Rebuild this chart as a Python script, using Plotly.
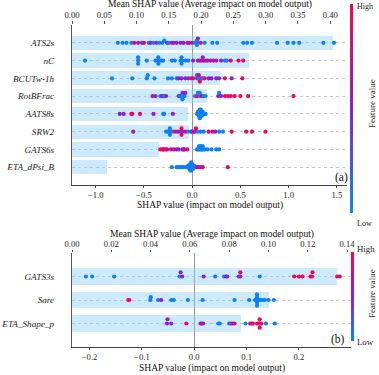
import numpy as np
import plotly.graph_objects as go

# ---------------------------------------------------------------------------
# Data
# ---------------------------------------------------------------------------

features_a = ["ATS2s", "nC", "BCUTw-1h", "RotBFrac", "AATS8s", "SRW2", "GATS6s", "ETA_dPsi_B"]
mean_abs_a = [0.404, 0.274, 0.229, 0.209, 0.180, 0.182, 0.135, 0.054]

features_b = ["GATS3s", "Sare", "ETA_Shape_p"]
mean_abs_b = [0.135, 0.1005, 0.0858]

ats2s_shap = [-0.77, -0.72, -0.68, -0.63, -0.60, -0.56, -0.52, -0.50, -0.45, -0.43,
              -0.40, -0.37, -0.34, -0.31, -0.29, -0.26, -0.24, -0.21, -0.19, -0.16,
              -0.12, -0.09, -0.05, -0.03, 0.00, 0.03, 0.05, 0.05, 0.05, 0.06,
              0.09, 0.13, 0.21, 0.26, 0.53, 0.57, 0.62, 0.88, 0.99, 1.05,
              1.11, 1.36, 1.47]
ats2s_val = [0.05, 0.05, 0.05, 0.05, 0.95, 0.5, 0.5, 0.95, 0.05, 0.5,
             0.05, 0.5, 0.05, 0.05, 0.05, 0.5, 0.05, 0.95, 0.5, 0.5,
             0.5, 0.5, 0.95, 0.5, 0.95, 0.05, 0.05, 0.05, 0.05, 0.5,
             0.95, 0.05, 0.05, 0.05, 0.05, 0.05, 0.05, 0.05, 0.05, 0.05,
             0.05, 0.05, 0.05]

nc_shap = [-1.11, -0.56, -0.56, -0.56, -0.47, -0.38, -0.36, -0.35, -0.35, -0.34,
           -0.32, -0.30, -0.21, -0.18, -0.12, -0.11, -0.11, -0.11, -0.10, -0.07,
           -0.04, 0.01, 0.06, 0.08, 0.10, 0.11, 0.12, 0.14, 0.16, 0.19,
           0.22, 0.25, 0.30, 0.34, 0.36, 0.40, 0.48, 0.53]
nc_val = [0.05, 0.05, 0.05, 0.05, 0.05, 0.05, 0.05, 0.05, 0.05, 0.05,
          0.05, 0.05, 0.05, 0.05, 0.05, 0.05, 0.05, 0.05, 0.05, 0.05,
          0.05, 0.5, 0.5, 0.5, 0.95, 0.5, 0.5, 0.95, 0.5, 0.5,
          0.95, 0.5, 0.5, 0.05, 0.05, 0.95, 0.95, 0.95]

bcutw_shap = [-0.83, -0.62, -0.47, -0.46, -0.39, -0.25, -0.21, -0.16, -0.14, -0.11,
              -0.07, -0.04, -0.01, 0.01, 0.05, 0.05, 0.06, 0.07, 0.07, 0.08,
              0.10, 0.11, 0.13, 0.17, 0.20, 0.25, 0.28, 0.34, 0.41, 0.52]
bcutw_val = [0.05, 0.05, 0.05, 0.05, 0.05, 0.05, 0.05, 0.05, 0.5, 0.5,
             0.5, 0.5, 0.95, 0.95, 0.05, 0.05, 0.5, 0.05, 0.95, 0.95,
             0.5, 0.05, 0.95, 0.5, 0.5, 0.5, 0.5, 0.95, 0.5, 0.95]

rotb_shap = [-0.41, -0.38, -0.33, -0.31, -0.29, -0.27, -0.14, -0.13, -0.12, -0.11,
             -0.10, -0.10, -0.09, -0.08, -0.07, 0.03, 0.05, 0.06, 0.08, 0.08,
             0.10, 0.12, 0.14, 0.27, 0.28, 0.30, 0.34, 0.37, 0.40, 0.44,
             0.50, 0.58, 1.05]
rotb_val = [0.5, 0.5, 0.05, 0.5, 0.05, 0.5, 0.05, 0.5, 0.05, 0.05,
            0.5, 0.05, 0.05, 0.05, 0.5, 0.05, 0.95, 0.05, 0.05, 0.05,
            0.95, 0.05, 0.05, 0.5, 0.05, 0.5, 0.95, 0.95, 0.95, 0.95,
            0.95, 0.95, 0.95]

aats8s_shap = [-0.75, -0.71, -0.63, -0.62, -0.54, -0.40, -0.30, -0.29, -0.20,
               0.05, 0.06, 0.06, 0.07, 0.07, 0.07, 0.08, 0.08, 0.08, 0.08, 0.08,
               0.09, 0.09, 0.09, 0.09, 0.10, 0.10, 0.10, 0.11, 0.11, 0.12,
               0.13, 0.14]
aats8s_val = [0.5, 0.5, 0.95, 0.95, 0.95, 0.5, 0.05, 0.05, 0.5,
              0.05, 0.05, 0.05, 0.05, 0.05, 0.05, 0.05, 0.05, 0.05, 0.05, 0.05,
              0.05, 0.05, 0.05, 0.05, 0.05, 0.05, 0.05, 0.05, 0.05, 0.05,
              0.05, 0.05]

srw2_shap = [-0.61, -0.27, -0.25, -0.23, -0.23, -0.23, -0.21, -0.18, -0.15, -0.12,
             -0.11, -0.11, -0.10, -0.07, -0.04, -0.01, 0.00, 0.02, 0.03, 0.04,
             0.06, 0.09, 0.12, 0.17, 0.21, 0.24, 0.28, 0.32, 0.41, 0.56,
             0.62, 0.76]
srw2_val = [0.5, 0.05, 0.05, 0.05, 0.05, 0.05, 0.05, 0.95, 0.5, 0.5,
            0.95, 0.95, 0.5, 0.95, 0.05, 0.05, 0.5, 0.95, 0.5, 0.95,
            0.05, 0.05, 0.05, 0.95, 0.95, 0.5, 0.05, 0.05, 0.95, 0.95,
            0.95, 0.95]

gats6s_shap = [-0.33, -0.31, -0.30, -0.29, -0.27, -0.26, -0.22, -0.19, -0.16, -0.14,
               -0.10, -0.09, -0.08, -0.05, 0.05, 0.06, 0.07, 0.07, 0.08, 0.08,
               0.09, 0.09, 0.10, 0.10, 0.11, 0.11, 0.12, 0.13, 0.16, 0.20,
               0.25, 0.28]
gats6s_val = [0.95, 0.95, 0.5, 0.95, 0.95, 0.95, 0.5, 0.95, 0.5, 0.5,
              0.5, 0.5, 0.5, 0.95, 0.05, 0.05, 0.05, 0.05, 0.05, 0.05,
              0.05, 0.05, 0.05, 0.05, 0.05, 0.05, 0.05, 0.05, 0.05, 0.05,
              0.05, 0.05]

etadpsi_shap = [-0.21, -0.16, -0.14, -0.13, -0.11, -0.10, -0.09, -0.06, -0.05,
                -0.04, -0.04, -0.03, -0.03, -0.03, -0.02, -0.02, -0.02, -0.02, -0.02,
                -0.01, -0.01, -0.01, -0.01, -0.01, -0.01, 0.00, 0.00, 0.00, 0.00,
                0.01, 0.01, 0.01, 0.02, 0.02, 0.03, 0.04, 0.05, 0.07, 0.09,
                0.11, 0.37]
etadpsi_val = [0.05] * 36 + [0.95, 0.5, 0.5, 0.95, 0.95]

gats3s_shap = [-0.207, -0.195, -0.153, -0.028, -0.026, -0.023, 0.018, 0.040, 0.057, 0.061,
               0.063, 0.085, 0.088, 0.088, 0.125, 0.191, 0.200, 0.207, 0.222, 0.225,
               0.226, 0.273, 0.278]
gats3s_val = [0.05, 0.05, 0.05, 0.05, 0.5, 0.5, 0.5, 0.05, 0.05, 0.5,
              0.5, 0.5, 0.5, 0.95, 0.05, 0.95, 0.95, 0.95, 0.95, 0.95,
              0.95, 0.95, 0.95]

sare_shap = [-0.126, -0.124, -0.084, -0.083, -0.069, -0.063, -0.044, -0.039, -0.012, 0.016,
             0.077, 0.105, 0.116, 0.119, 0.120, 0.120, 0.120, 0.120, 0.121, 0.124,
             0.127, 0.131, 0.135, 0.142, 0.152]
sare_val = [0.95, 0.95, 0.05, 0.05, 0.05, 0.5, 0.05, 0.05, 0.05, 0.05,
            0.05, 0.05, 0.05, 0.05, 0.05, 0.05, 0.05, 0.05, 0.05, 0.05,
            0.05, 0.05, 0.05, 0.05, 0.05]

etashape_shap = [-0.052, -0.051, -0.044, -0.015, 0.012, 0.014, 0.017, 0.046, 0.049, 0.067,
                 0.070, 0.073, 0.077, 0.098, 0.107, 0.110, 0.112, 0.120, 0.124, 0.125,
                 0.125, 0.125, 0.128, 0.137, 0.154]
etashape_val = [0.5, 0.5, 0.5, 0.95, 0.5, 0.95, 0.5, 0.05, 0.05, 0.5,
                0.05, 0.5, 0.95, 0.05, 0.95, 0.5, 0.95, 0.95, 0.95, 0.95,
                0.95, 0.95, 0.95, 0.05, 0.05]

shap_a = [ats2s_shap, nc_shap, bcutw_shap, rotb_shap, aats8s_shap, srw2_shap, gats6s_shap, etadpsi_shap]
val_a = [ats2s_val, nc_val, bcutw_val, rotb_val, aats8s_val, srw2_val, gats6s_val, etadpsi_val]
shap_b = [gats3s_shap, sare_shap, etashape_shap]
val_b = [gats3s_val, sare_val, etashape_val]

# ---------------------------------------------------------------------------
# Styling
# ---------------------------------------------------------------------------

W, H = 379, 375
FONT = "Liberation Serif"
BAR_COLOR = "rgba(135,206,250,0.42)"
RED_BLUE = [[0.0, "#008bfb"], [0.5, "#8a1fd6"], [1.0, "#ff0052"]]


def fx(p):
    return p / W


def fy(p):
    return 1 - p / H


def swarm(shaps, row_height=0.4, nbins=100):
    """Vertical offsets like shap's beeswarm (binned stacking)."""
    s = np.asarray(shaps, float)
    quant = np.round(nbins * (s - s.min()) / (s.max() - s.min() + 1e-8))
    inds = np.argsort(quant, kind="stable")
    ys = np.zeros(len(s))
    layer, last = 0, None
    for i in inds:
        if quant[i] != last:
            layer = 0
        ys[i] = np.ceil(layer / 2) * ((layer % 2) * 2 - 1)
        layer += 1
        last = quant[i]
    ys *= 0.9 * (row_height / np.max(ys + 1))
    return ys


fig = go.Figure()


def add_panel(names, means, shaps, vals, xm, xs, ya, cax, bar_w):
    n = len(names)
    pos = [n - 1 - i for i in range(n)]
    fig.add_trace(go.Bar(
        x=means, y=pos, orientation="h", width=bar_w,
        marker=dict(color=BAR_COLOR, line=dict(width=0)),
        xaxis=xm, yaxis=ya, showlegend=False, hoverinfo="skip",
    ))
    for p, s, v in zip(pos, shaps, vals):
        fig.add_trace(go.Scatter(
            x=s, y=p + swarm(s), mode="markers",
            marker=dict(size=4.2, color=v, coloraxis=cax, line=dict(width=0)),
            xaxis=xs, yaxis=ya, showlegend=False,
        ))


# panel (a): x = mean axis (top), x2 = SHAP axis (bottom, overlay so dots sit above bars)
add_panel(features_a, mean_abs_a, shap_a, val_a, "x", "x2", "y", "coloraxis", 0.8)
# panel (b): x3 = mean axis (top), x4 = SHAP axis (bottom)
add_panel(features_b, mean_abs_b, shap_b, val_b, "x3", "x4", "y2", "coloraxis2", 0.72)

tick_font = dict(family=FONT, size=8.6, color="#222")
name_font = dict(family=FONT, size=9.2, color="#222", style="italic")

common_x = dict(ticks="outside", showgrid=False, automargin=False, tickfont=tick_font)

top_a = dict(domain=[fx(72), fx(347)], anchor="y", side="top", range=[0, 0.426],
             tickvals=[0, 0.05, 0.1, 0.15, 0.2, 0.25, 0.3, 0.35, 0.4], tickformat=".2f",
             ticklen=3, tickcolor="#555", showline=False, zeroline=False, **common_x)
bot_a = dict(overlaying="x", anchor="y", side="bottom", range=[-1.245, 1.605],
             tickvals=[-1.0, -0.5, 0, 0.5, 1.0, 1.5], tickformat=".1f",
             ticklen=2, tickcolor="#444", showline=True, linecolor="#444", linewidth=1,
             zeroline=True, zerolinecolor="#999", zerolinewidth=1.2, **common_x)
top_b = dict(domain=[fx(72), fx(351)], anchor="y2", side="top", range=[0, 0.142],
             tickvals=[0, 0.02, 0.04, 0.06, 0.08, 0.10, 0.12, 0.14], tickformat=".2f",
             ticklen=2, tickcolor="#555", showline=False, zeroline=False, **common_x)
bot_b = dict(overlaying="x3", anchor="y2", side="bottom", range=[-0.2335, 0.2995],
             tickvals=[-0.2, -0.1, 0, 0.1, 0.2, 0.3], tickformat=".1f",
             ticklen=2, tickcolor="#444", showline=True, linecolor="#444", linewidth=1,
             zeroline=True, zerolinecolor="#999", zerolinewidth=1.2, **common_x)

common_y = dict(ticks="", ticklabelstandoff=15, showline=True, linecolor="#555",
                linewidth=1, showgrid=True, gridcolor="#c8c8c8", griddash="dot",
                gridwidth=1, zeroline=False, automargin=False, tickfont=name_font)
yaxis_a = dict(domain=[fy(185), fy(25)], anchor="x", range=[-1, 8],
               tickvals=list(range(8)), ticktext=features_a[::-1], **common_y)
yaxis_b = dict(domain=[fy(347), fy(253)], anchor="x3", range=[-1, 3],
               tickvals=list(range(3)), ticktext=features_b[::-1], **common_y)


def cbar(yc, length, xpos):
    return dict(x=fx(xpos), xanchor="left", xref="paper", y=fy(yc), yanchor="middle",
                yref="paper", len=length, lenmode="pixels", thickness=2.6,
                outlinewidth=0, showticklabels=False, ticks="", xpad=0, ypad=0)


fig.update_layout(
    width=W, height=H,
    margin=dict(l=0, r=0, t=0, b=0, autoexpand=False),
    paper_bgcolor="white", plot_bgcolor="white",
    bargap=0,
    xaxis=top_a, xaxis2=bot_a, xaxis3=top_b, xaxis4=bot_b,
    yaxis=yaxis_a, yaxis2=yaxis_b,
    coloraxis=dict(colorscale=RED_BLUE, cmin=0, cmax=1, colorbar=cbar(108.5, 209, 350)),
    coloraxis2=dict(colorscale=RED_BLUE, cmin=0, cmax=1, colorbar=cbar(296.5, 89, 350.5)),
    font=dict(family=FONT, color="#111"),
)

title_font = dict(family=FONT, size=9.5, color="#111")
small_font = dict(family=FONT, size=8, color="#222")


def note(x, y, text, font, **kw):
    kw.setdefault("xanchor", "center")
    fig.add_annotation(x=fx(x), y=fy(y), xref="paper", yref="paper", text=text,
                       showarrow=False, font=font, yanchor="middle", **kw)


note(209.5, 5, "Mean SHAP value (Average impact on model output)", title_font)
note(209.5, 205, "SHAP value (impact on model output)", title_font)
note(211.5, 234, "Mean SHAP value (Average impact on model output)", title_font)
note(211.5, 368, "SHAP value (impact on model output)", title_font)

note(355, 6, "High", small_font, xanchor="left")
note(355, 223, "Low", small_font, xanchor="left")
note(355, 249, "High", dict(family=FONT, size=8.8, color="#222"), xanchor="left")
note(355, 342, "Low", dict(family=FONT, size=8.8, color="#222"), xanchor="left")
note(372, 104, "Feature value", dict(family=FONT, size=9, color="#222"), textangle=-90)
note(372, 294, "Feature value", dict(family=FONT, size=9, color="#222"), textangle=-90)

note(341, 177, "(a)", dict(family=FONT, size=11.5, color="#111"))
note(338, 339, "(b)", dict(family=FONT, size=11.5, color="#111"))

# the page's default body margin would shift the figure by 8 px
fig.write_html("out.html", config={"displayModeBar": False},
               post_script="document.body.style.margin='0';")
